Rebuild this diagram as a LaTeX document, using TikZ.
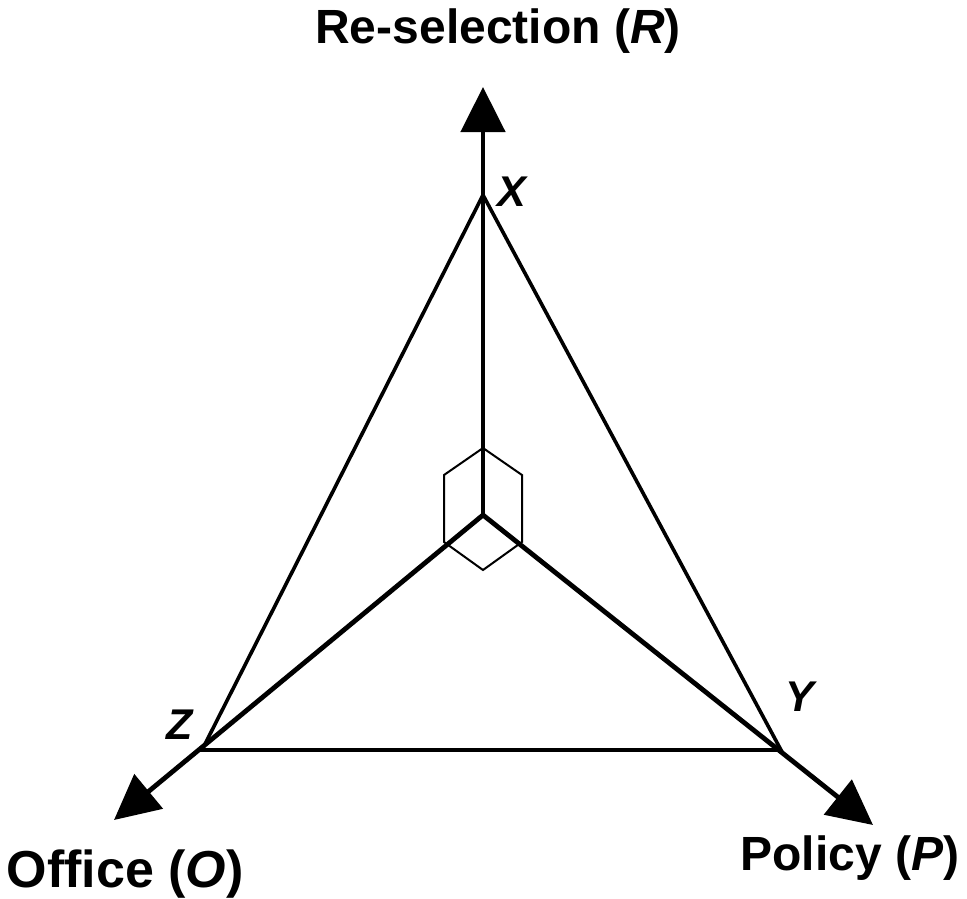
\documentclass[tikz,border=0pt]{standalone}
\usepackage{fontspec}
\setmainfont{Liberation Sans}
\usetikzlibrary{arrows.meta}
\begin{document}
\begin{tikzpicture}[x=1pt,y=-1pt,
  axis/.style={line width=4.8pt,-{Triangle[length=45pt,width=44pt]}},
  side/.style={line width=3.6pt,line join=miter},
  cube/.style={line width=2pt,line join=miter},
  biglabel/.style={font=\fontsize{48}{56}\selectfont\bfseries,anchor=base,inner sep=0pt},
  ptlabel/.style={font=\fontsize{43}{50}\selectfont\bfseries\itshape,inner sep=0pt}]
\useasboundingbox (0,0) rectangle (967,898);
\coordinate (O) at (483,515);
\coordinate (X) at (483,195);
\coordinate (Y) at (781,750);
\coordinate (Z) at (202,750);
\coordinate (Rt) at (483,87);
\coordinate (Ot) at (114,820);
\coordinate (Pt) at (873,825);
% cube corner
\coordinate (c1) at (483,448);
\coordinate (c2) at (522,475);
\coordinate (c3) at (522,542);
\coordinate (c4) at (483,570);
\coordinate (c5) at (444,542);
\coordinate (c6) at (444,475);
\draw[cube] (c1) -- (c2) -- (c3) -- (c4) -- (c5) -- (c6) -- cycle;
% triangle
\draw[side] (X) -- (Y) -- (Z) -- cycle;
% axes
\draw[axis] (O) -- (Rt);
\draw[axis] (O) -- (Ot);
\draw[axis] (O) -- (Pt);
% labels
\node[biglabel] (lR) at (498,43) {Re-selection (\textit{R})};
\node[biglabel,font=\fontsize{52}{60}\selectfont\bfseries] (lO) at (125,887) {Office (\textit{O})};
\node[biglabel] (lP) at (850,870) {Policy (\textit{P})};
\node[ptlabel] (lX) at (512,192) {X};
\node[ptlabel] (lY) at (800,697) {Y};
\node[ptlabel] (lZ) at (180,725) {Z};
\end{tikzpicture}
\end{document}
